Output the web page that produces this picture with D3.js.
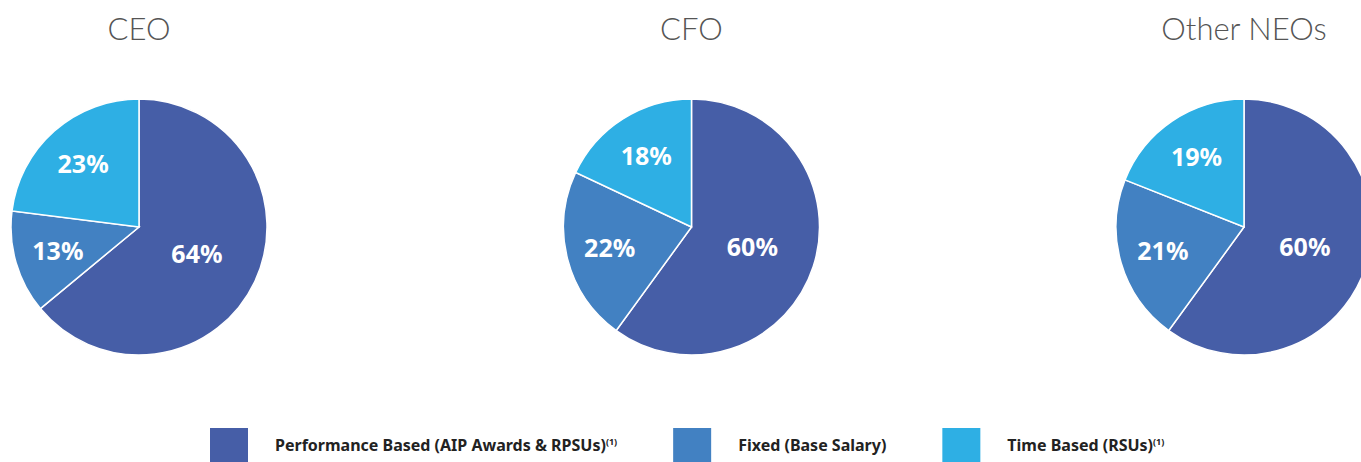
<!DOCTYPE html>
<html>
<head>
<meta charset="utf-8">
<script src="https://cdn.jsdelivr.net/npm/d3@7"></script>
<style>
  body { margin: 0; background: #fff; overflow: hidden; }
  .title { font-family: Lato, "Open Sans", sans-serif; font-weight: 300; font-size: 31px; fill: #555; }
  .pct { font-family: "Noto Sans", "Open Sans", sans-serif; font-weight: 700; font-size: 25px; fill: #fff; }
  .leg { font-family: "Noto Sans", "Open Sans", sans-serif; font-weight: 700; font-size: 16px; fill: #222; }
</style>
</head>
<body>
<svg id="chart"></svg>
<script>
// chart data
var groups = ["CEO", "CFO", "Other NEOs"];
var categories = ["Performance Based (AIP Awards & RPSUs)", "Fixed (Base Salary)", "Time Based (RSUs)"];
var footnote = [true, false, true];
var colors = ["#465ea7", "#4281c2", "#2eafe4"];
var ceoValues = [64, 13, 23];
var cfoValues = [60, 22, 18];
var otherValues = [60, 21, 19];
var values = [ceoValues, cfoValues, otherValues];

var width = 1361, height = 462;
var svg = d3.select("svg#chart").attr("width", width).attr("height", height);

var radius = 128;
var cy = 227;

var x = d3.scalePoint()
    .domain(groups)
    .range([139, 1244]);

var color = d3.scaleOrdinal()
    .domain(categories)
    .range(colors);

var pie = d3.pie()
    .sort(null)
    .value(function(d) {return d.value;});

var arc = d3.arc()
    .innerRadius(0)
    .outerRadius(radius);

groups.forEach(function(name, gi) {
  var data = categories.map(function(c, i) {return {cat: c, value: values[gi][i]};});
  var g = svg.append("g")
    .attr("transform", "translate(" + x(name) + "," + cy + ")");

  g.selectAll("path")
    .data(pie(data))
    .enter()
    .append("path")
    .attr("d", arc)
    .style("fill", function(d) {return color(d.data.cat);})
    .style("stroke", "#fff")
    .style("stroke-width", 1.5);

  // big slice label sits closer to the centre
  g.selectAll(".pct")
    .data(pie(data))
    .enter()
    .append("text")
    .classed("pct", true)
    .attr("transform", function(d) {
      var k = d.data.value > 50 ? 0.5 : 0.66;
      var mid = (d.startAngle + d.endAngle) / 2;
      return "translate(" + (Math.sin(mid) * radius * k) + "," + (-Math.cos(mid) * radius * k) + ")";
    })
    .attr("text-anchor", "middle")
    .attr("dy", "0.36em")
    .text(function(d) {return d.data.value + "%";});

  var t = svg.append("text")
    .classed("title", true)
    .attr("y", 40)
    .attr("text-anchor", "middle")
    .text(name);
  var tw = t.node().getComputedTextLength();
  t.attr("x", Math.min(x(name), width - 29 - tw / 2));
});

// legend
var legend = svg.append("g");
var lx = 210;
categories.forEach(function(c, i) {
  legend.append("rect")
    .attr("x", lx)
    .attr("y", 428)
    .attr("width", 38)
    .attr("height", 40)
    .style("fill", color(c));
  var txt = legend.append("text")
    .classed("leg", true)
    .attr("x", lx + 65)
    .attr("y", 451)
    .text(c);
  if (footnote[i]) {
    txt.append("tspan")
      .attr("dy", -6)
      .style("font-size", "9px")
      .text("(1)");
  }
  lx = lx + 65 + txt.node().getComputedTextLength() + 56;
});
</script>
</body>
</html>
